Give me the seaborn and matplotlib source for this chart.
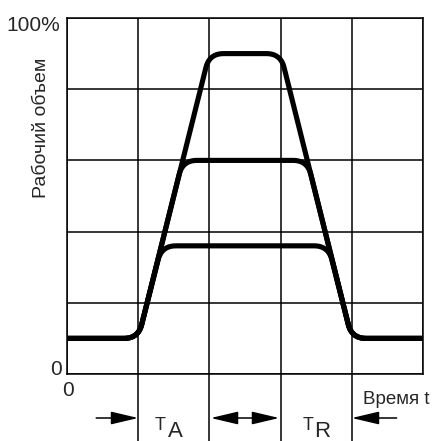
import numpy as np
import pandas as pd
import matplotlib
matplotlib.use("Agg")
import matplotlib.pyplot as plt
import seaborn as sns

# --- data (time in grid units, working volume in %) ---
time_tall = [0, 1, 2, 3, 4, 5]
vol_tall = [10, 10, 90, 90, 10, 10]
time_mid = [0, 1, 1.625, 3.375, 4, 5]
vol_mid = [10, 10, 60, 60, 10, 10]
time_low = [0, 1, 1.33, 3.67, 4, 5]
vol_low = [10, 10, 36, 36, 10, 10]

y_label = "Рабочий объем"
x_label = "Время t"
y_top_label = "100%"
zero_label = "0"

sns.set_theme(style="white")
plt.rcParams['font.family'] = ['Liberation Sans', 'DejaVu Sans']

YS = 20.0  # y grid unit


def round_corners(xs, ys, r=0.2, n=12):
    X = np.array(xs, float)
    Y = np.array(ys, float) / YS
    out_x, out_y = [X[0]], [Y[0]]
    for i in range(1, len(X) - 1):
        P = np.array([X[i], Y[i]])
        A = np.array([X[i - 1], Y[i - 1]])
        B = np.array([X[i + 1], Y[i + 1]])
        da, db = A - P, B - P
        la, lb = np.hypot(*da), np.hypot(*db)
        rr = min(r, la / 2, lb / 2)
        P1 = P + da / la * rr
        P2 = P + db / lb * rr
        t = np.linspace(0, 1, n)[:, None]
        pts = (1 - t) ** 2 * P1 + 2 * (1 - t) * t * P + t ** 2 * P2
        out_x.extend(pts[:, 0]); out_y.extend(pts[:, 1])
    out_x.append(X[-1]); out_y.append(Y[-1])
    return np.array(out_x), np.array(out_y) * YS


fig = plt.figure(figsize=(4.32, 4.41), dpi=100)
ax = fig.add_axes([67 / 432, 1 - 374 / 441, 356 / 432, 356 / 441])

frames = []
for name, t, v in [("tall", time_tall, vol_tall), ("mid", time_mid, vol_mid), ("low", time_low, vol_low)]:
    sx, sy = round_corners(t, v)
    frames.append(pd.DataFrame({"t": sx, "v": sy, "curve": name, "order": np.arange(len(sx))}))
df = pd.concat(frames, ignore_index=True)

for name, g in df.groupby("curve", sort=False):
    sns.lineplot(data=g, x="t", y="v", sort=False, estimator=None, color="black",
                 linewidth=3.7, ax=ax, zorder=5, solid_capstyle="butt", clip_on=False)

ax.set_xlim(0, 5)
ax.set_ylim(0, 100)
ax.set_xticks(np.arange(0, 6))
ax.set_yticks(np.arange(0, 101, 20))
ax.grid(True, color="black", linewidth=1.1)
ax.tick_params(length=0, labelbottom=False, labelleft=False)
ax.set_xlabel("")
ax.set_ylabel("")
for s in ax.spines.values():
    s.set_color("black")
    s.set_linewidth(1.1)

# vertical lines extending below the axes
for xv in [1, 2, 3, 4]:
    ax.plot([xv, xv], [0, -0.95 * YS], color="black", lw=1.1, clip_on=False)

fs = 14
ax.text(-0.095, 4.9 * YS, y_top_label, ha="right", va="center", fontsize=15)
ax.text(-0.065, 0.07 * YS, zero_label, ha="right", va="center", fontsize=15)
ax.text(0.014, -0.225 * YS, zero_label, ha="center", va="center", fontsize=15)
ax.text(-0.365, 3.46 * YS, y_label, ha="center", va="center", rotation=90, fontsize=fs)
ax.text(4.157, -0.365 * YS, x_label, ha="left", va="center", fontsize=13.5, clip_on=False)

# T_A and T_R
ax.text(1.236, -0.787 * YS, "T", ha="left", va="baseline", fontsize=13)
ax.text(1.415, -0.885 * YS, "A", ha="left", va="baseline", fontsize=16)
ax.text(3.315, -0.787 * YS, "T", ha="left", va="baseline", fontsize=13)
ax.text(3.475, -0.885 * YS, "R", ha="left", va="baseline", fontsize=16)

ya = -0.618 * YS
ap = dict(arrowstyle="-|>,head_length=1.4,head_width=0.33", color="black", lw=1.1,
          shrinkA=0, shrinkB=0)
ax.annotate("", xy=(1, ya), xytext=(0.41, ya), arrowprops=ap, annotation_clip=False)
ax.annotate("", xy=(4, ya), xytext=(4.63, ya), arrowprops=ap, annotation_clip=False)
ap2 = dict(arrowstyle="<|-|>,head_length=1.4,head_width=0.33", color="black", lw=1.1,
           shrinkA=0, shrinkB=0)
ax.annotate("", xy=(2.02, ya), xytext=(2.98, ya), arrowprops=ap2, annotation_clip=False)

fig.savefig("out.png", dpi=100)
